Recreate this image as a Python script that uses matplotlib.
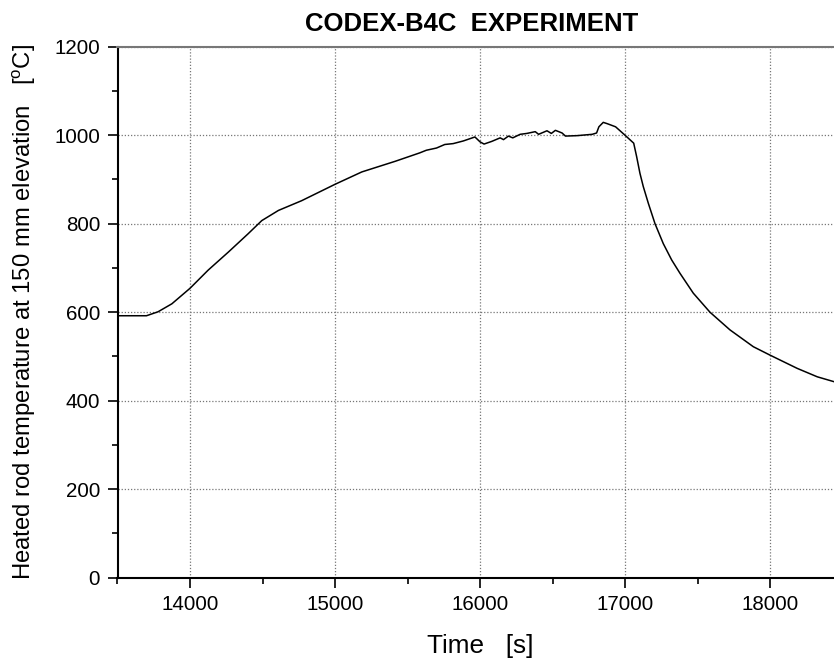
import matplotlib
matplotlib.use("Agg")
import matplotlib.pyplot as plt
from matplotlib.ticker import MultipleLocator

plt.rcParams['font.family'] = ['Liberation Sans', 'DejaVu Sans']
plt.rcParams['mathtext.fontset'] = 'custom'
plt.rcParams['mathtext.rm'] = 'Liberation Sans'

title = "CODEX-B4C  EXPERIMENT"
xlabel = "Time   [s]"
ylabel = "Heated rod temperature at 150 mm elevation   [$\\mathrm{^oC}$]"

time_s = [13500, 13700, 13780, 13875, 14000, 14125, 14265, 14400, 14495, 14610,
          14770, 15000, 15185, 15415, 15584, 15630, 15700, 15757, 15815, 15885,
          15965, 16000, 16028, 16081, 16139, 16162, 16196, 16226, 16277, 16323,
          16381, 16404, 16462, 16492, 16520, 16566, 16589, 16670, 16774, 16804,
          16820, 16850, 16878, 16935, 17000, 17060, 17080, 17103, 17126, 17161,
          17207, 17264, 17322, 17379, 17471, 17586, 17724, 17885, 18000, 18188,
          18326, 18441, 18500]
temp_c = [592, 592, 601, 619, 654, 695, 736, 777, 807, 830,
          852, 889, 917, 941, 960, 966, 971, 979, 981, 987,
          996, 985, 980, 986, 994, 990, 998, 994, 1002, 1004,
          1008, 1002, 1010, 1004, 1011, 1005, 998, 999, 1002, 1005,
          1019, 1029, 1026, 1019, 1000, 982, 952, 914, 884, 846,
          800, 755, 718, 688, 643, 600, 560, 522, 503, 473,
          454, 443, 437]

xticks = [14000, 15000, 16000, 17000, 18000]
yticks = [0, 200, 400, 600, 800, 1000, 1200]

fig = plt.figure(figsize=(8.34, 6.66), dpi=100)
W, H = 834, 666
x0, x1 = 117.5, 842.5
ytop, ybot = 46.7, 577.7
ax = fig.add_axes([x0 / W, 1 - ybot / H, (x1 - x0) / W, (ybot - ytop) / H])

ax.plot(time_s, temp_c, color='black', lw=1.1)
ax.set_xlim(13500, 18500)
ax.set_ylim(0, 1200)
ax.set_xticks(xticks)
ax.set_yticks(yticks)
ax.xaxis.set_minor_locator(MultipleLocator(500))
ax.yaxis.set_minor_locator(MultipleLocator(100))
ax.tick_params(which='major', direction='out', length=7.5, width=1.2, labelsize=14.8, pad=5)
ax.tick_params(which='minor', direction='out', length=4.5, width=1.2)
ax.grid(True, which='major', linestyle=(0, (1, 1.5)), color='#777777', lw=0.9)

for s in ['left', 'bottom']:
    ax.spines[s].set_linewidth(1.5)
ax.spines['top'].set_color('#777777')
ax.spines['top'].set_linewidth(1.5)
ax.spines['right'].set_visible(False)

ax.set_xlabel(xlabel, fontsize=18.8, labelpad=14)
ax.set_ylabel(ylabel, fontsize=17.2, labelpad=12)
ax.set_title(title, fontsize=18.5, fontweight='bold', pad=11, x=(472 - x0) / (x1 - x0))

fig.savefig("out.png", dpi=100)
